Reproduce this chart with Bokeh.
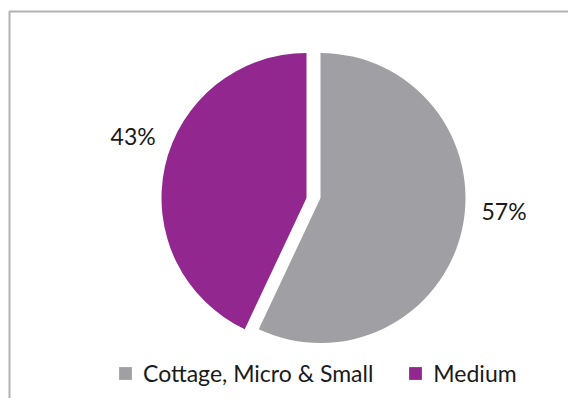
import math
from bokeh.plotting import figure
from bokeh.models import Range1d, BoxAnnotation, Legend, LegendItem
from bokeh.core.properties import value
from bokeh.embed import file_html
from bokeh.resources import INLINE

categories = ["Cottage, Micro & Small", "Medium"]
shares = [57, 43]
colors = ["#A0A0A4", "#92278F"]
directions = ["clock", "anticlock"]
label_shift_deg = [8.5, 7]   # label placement tweak toward the top (layout only)

W, H = 568, 398
FONT = "Lato"
FS = "23px"

p = figure(width=W, height=H, output_backend="svg", toolbar_location=None,
           x_range=Range1d(0, W), y_range=Range1d(0, H),
           x_axis_type=None, y_axis_type=None, min_border=0)
p.grid.visible = False
p.outline_line_color = None
p.background_fill_color = "white"
p.border_fill_color = "white"

# frame border (only left/top visible)
p.add_layout(BoxAnnotation(left=9, right=W + 50, top=H - 11, bottom=-50,
                           fill_alpha=0, line_color="black", line_width=2))

cx, cy, r, gap = 313, 200.5, 145, 7
total = sum(shares)
start = math.pi / 2
items = []
for cat, v, col, d, sh in zip(categories, shares, colors, directions, label_shift_deg):
    sweep = 2 * math.pi * v / total
    sign = -1 if d == "clock" else 1
    end = start + sign * sweep
    ox = cx + (gap if d == "clock" else -gap)
    rend = p.wedge(x=[ox], y=[cy], radius=r, start_angle=min(start, end),
                   end_angle=max(start, end), direction="anticlock",
                   fill_color=col, line_color=None)
    items.append(LegendItem(label=cat, renderers=[rend]))
    mid = start + sign * sweep / 2 - sign * math.radians(sh)
    lr = 184
    p.text(x=[ox + lr * math.cos(mid)], y=[cy + lr * math.sin(mid)],
           text=[f"{v}%"], text_align="center", text_baseline="middle",
           text_font=value(FONT), text_font_size=FS, text_color="#1a1a1a")

legend = Legend(items=items, orientation="horizontal", location=(117, 11))
legend.label_text_font = FONT
legend.label_text_font_size = FS
legend.label_text_color = "#1a1a1a"
legend.glyph_width = 16
legend.glyph_height = 16
legend.label_standoff = 10
legend.spacing = 34
legend.padding = 0
legend.margin = 0
legend.border_line_color = None
legend.background_fill_alpha = 0
p.add_layout(legend)

open("out.html", "w").write(file_html(p, INLINE))
